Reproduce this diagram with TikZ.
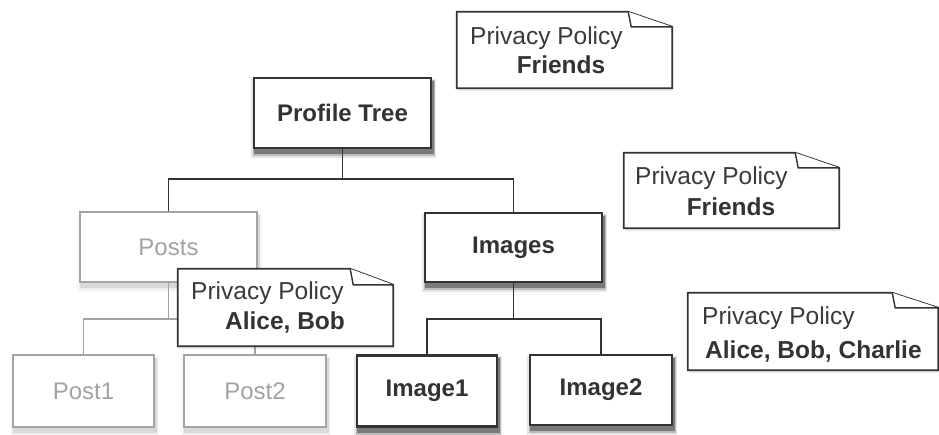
\documentclass[tikz,border=0pt]{standalone}
\usepackage{fontspec}
\setmainfont{Liberation Sans}
\usetikzlibrary{calc,backgrounds}
\definecolor{dk}{HTML}{333333}
\definecolor{lt}{HTML}{A3A3A3}
\definecolor{txt}{HTML}{3A3A3A}
\tikzset{
  mainbox/.style={draw=dk, line width=2.2pt, fill=white, inner sep=0pt,
    font=\fontsize{24}{28}\selectfont\bfseries, text=dk},
  greybox/.style={draw=lt, line width=1.5pt, fill=white, inner sep=0pt,
    font=\fontsize{24}{28}\selectfont, text=lt},
  conn/.style={draw=dk, line width=1.8pt},
  gconn/.style={draw=lt, line width=1.5pt},
  notearea/.style={inner sep=0pt, draw=none},
  noteline/.style={draw=dk, line width=1.8pt, fill=white, line join=miter},
  foldline/.style={draw=dk, line width=1.4pt, fill=white},
  ptxt/.style={inner sep=0pt, font=\fontsize{24.5}{28}\selectfont, text=txt},
  btxt/.style={inner sep=0pt, font=\fontsize{24.5}{28}\selectfont\bfseries, text=dk},
}
% y axis points down: +y is downward
\newcommand{\boxshadow}[2]{%
  \fill[black, opacity=0.10*#2] ($(#1.south west)+(-2,9)$) rectangle ($(#1.north east)+(4,2)$);
  \fill[black, opacity=0.18*#2] ($(#1.south west)+(0,7)$) rectangle ($(#1.north east)+(3,3)$);
  \fill[black, opacity=0.35*#2] ($(#1.south west)+(1,5)$) rectangle ($(#1.north east)+(2,4)$);
}
\newcommand{\drawnote}[3]{%
  \fill[black, opacity=0.08] ([xshift=1pt,yshift=-3pt]#1.north west) -- ([xshift=-#2+1pt,yshift=-3pt]#1.north east) -- ([xshift=1pt,yshift=-#3-3pt]#1.north east) -- ([xshift=1pt,yshift=-3pt]#1.south east) -- ([xshift=1pt,yshift=-3pt]#1.south west) -- cycle;
  \path[noteline] (#1.north west) -- ([xshift=-#2]#1.north east) -- ([yshift=-#3]#1.north east) -- (#1.south east) -- (#1.south west) -- cycle;
  \path[foldline] ([xshift=-#2]#1.north east) -- ([xshift=-#2+3pt,yshift=-#3]#1.north east) -- ([yshift=-#3]#1.north east);
}
\begin{document}
\begin{tikzpicture}[x=1pt,y=-1pt]
\useasboundingbox (0,0) rectangle (939,434);
% tree nodes
\node[mainbox, minimum width=177pt, minimum height=70pt] (pt) at (342.5,113) {Profile Tree};
\node[greybox, minimum width=177pt, minimum height=70pt] (posts) at (168.5,247) {Posts};
\node[mainbox, minimum width=177pt, minimum height=69pt] (images) at (513.5,247.5) {Images};
\node[greybox, minimum width=141pt, minimum height=72pt] (post1) at (83.5,391) {Post1};
\node[greybox, minimum width=142pt, minimum height=72pt] (post2) at (255,391) {Post2};
\node[mainbox, minimum width=140pt, minimum height=71pt] (img1) at (427,391) {Image1};
\node[mainbox, minimum width=142pt, minimum height=70pt] (img2) at (601,390) {Image2};
\begin{scope}[on background layer]
  \boxshadow{pt}{1}
  \boxshadow{images}{1}
  \boxshadow{img1}{1}
  \boxshadow{img2}{1}
  \boxshadow{posts}{0.25}
  \boxshadow{post1}{0.25}
  \boxshadow{post2}{0.25}
\end{scope}
% connectors
\draw[conn] (pt.south) -- ++(0,30) coordinate (bar1) -| (posts.north);
\draw[conn] (bar1) -| (images.north);
\draw[gconn] (posts.south) -- ++(0,36) coordinate (bar2) -| (post1.north);
\draw[gconn] (bar2) -| (post2.north);
\draw[conn] (images.south) -- ++(0,36) coordinate (bar3) -| (img1.north);
\draw[conn] (bar3) -| (img2.north);
% notes
\node[notearea, minimum width=215pt, minimum height=76pt] (n1) at (564.5,50) {};
\drawnote{n1}{44pt}{15pt}
\node[ptxt, anchor=west] (n1a) at (470,38) {Privacy Policy};
\node[btxt] (n1b) at (561,65) {Friends};

\node[notearea, minimum width=215pt, minimum height=75pt] (n2) at (731.5,190.5) {};
\drawnote{n2}{44pt}{15pt}
\node[ptxt, anchor=west] (n2a) at (635,178) {Privacy Policy};
\node[btxt] (n2b) at (731,207) {Friends};

\node[notearea, minimum width=215pt, minimum height=77pt] (n3) at (285.5,307.5) {};
\drawnote{n3}{43pt}{16pt}
\node[ptxt, anchor=west] (n3a) at (191,293) {Privacy Policy};
\node[btxt] (n3b) at (285,323) {Alice, Bob};

\node[notearea, minimum width=250pt, minimum height=77pt] (n4) at (813,331.5) {};
\drawnote{n4}{46pt}{15pt}
\node[ptxt, anchor=west] (n4a) at (702,318) {Privacy Policy};
\node[btxt, anchor=west] (n4b) at (705,352) {Alice, Bob, Charlie};
\end{tikzpicture}
\end{document}
